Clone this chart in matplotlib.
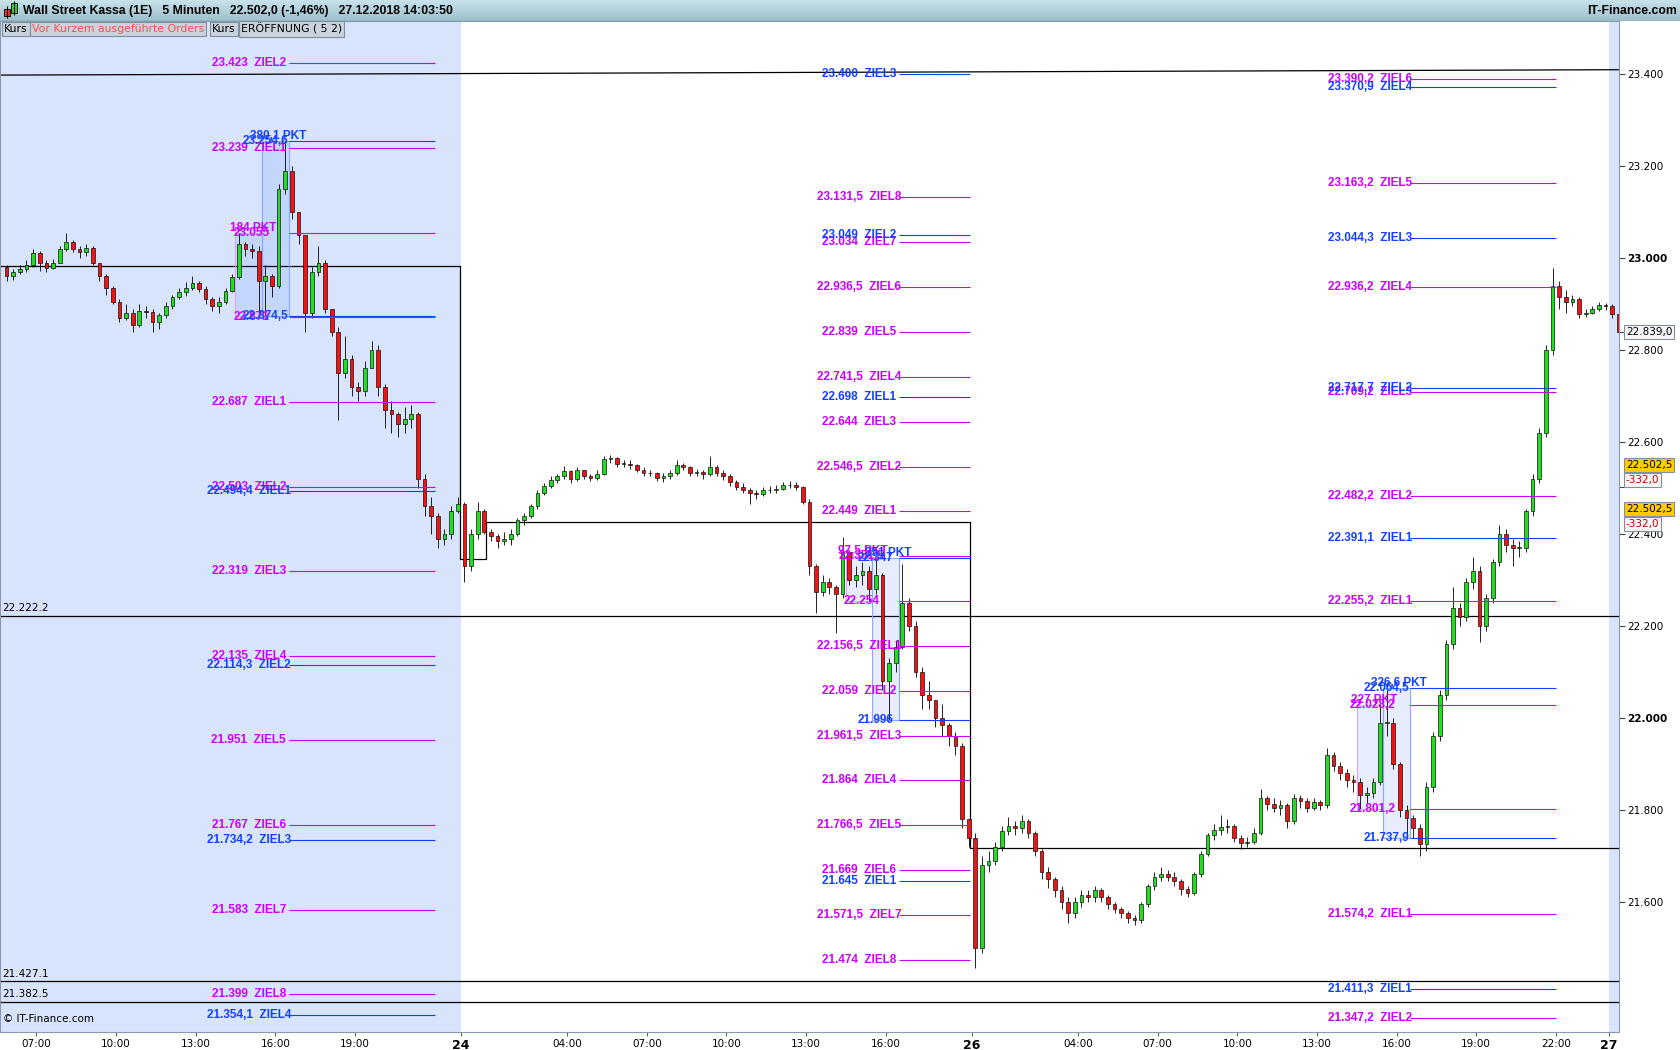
import numpy as np
import matplotlib.pyplot as plt
from matplotlib.patches import Rectangle
from matplotlib.colors import LinearSegmentedColormap

plt.rcParams['font.family'] = ['DejaVu Sans']

# ---------------- Daten (Punkte) ----------------
# 15-Minuten-Kerzen: Schluss / Hoch / Tief, je Handelstag
# 21.12. ab 05:45
c21 = [22960, 22970, 22975, 22985, 23010, 22990, 22978, 22990, 23020, 23035,
       23020, 23012, 23022, 22990, 22960, 22935, 22905, 22870, 22880, 22855,
       22885, 22882, 22860, 22875, 22895, 22915, 22925, 22935, 22945, 22932,
       22910, 22895, 22905, 22928, 22958, 23030, 23020, 23015, 22950, 22960,
       22940, 23150, 23190, 23100, 23050, 22880, 22970, 22990, 22890, 22840,
       22750, 22780, 22720, 22710, 22760, 22800, 22720, 22670, 22660, 22640,
       22650, 22660, 22520, 22460, 22440, 22390, 22400, 22450, 22465]
h21 = [22985, 22975, 22985, 22995, 23020, 23015, 22995, 22998, 23025, 23055,
       23040, 23025, 23030, 23025, 22990, 22965, 22940, 22910, 22900, 22890,
       22900, 22895, 22888, 22880, 22905, 22920, 22935, 22948, 22960, 22950,
       22940, 22915, 22915, 22935, 22965, 23055, 23035, 23030, 23025, 22985,
       22965, 23160, 23254.6, 23200, 23100, 23050, 22980, 23025, 22995, 22890,
       22850, 22830, 22790, 22730, 22775, 22820, 22810, 22725, 22690, 22665,
       22675, 22680, 22665, 22530, 22480, 22445, 22410, 22460, 22480]
l21 = [22950, 22952, 22965, 22970, 22980, 22972, 22970, 22975, 22988, 23015,
       23012, 23000, 23005, 22985, 22950, 22920, 22900, 22860, 22865, 22840,
       22850, 22870, 22840, 22845, 22870, 22890, 22910, 22918, 22930, 22925,
       22900, 22885, 22880, 22900, 22925, 22955, 23005, 23000, 22871, 22874.5,
       22915, 22935, 23140, 23085, 23030, 22840, 22870, 22960, 22880, 22830,
       22647, 22740, 22700, 22690, 22700, 22760, 22700, 22630, 22620, 22610,
       22620, 22630, 22500, 22440, 22400, 22370, 22375, 22390, 22445]

# 24.12. ab 00:00
c24 = [22330, 22400, 22450, 22405, 22395, 22385, 22390, 22400, 22430, 22440,
       22460, 22490, 22505, 22518, 22525, 22536, 22520, 22538, 22525, 22521,
       22530, 22562, 22566, 22553, 22553, 22551, 22540, 22533, 22532, 22522,
       22525, 22532, 22551, 22545, 22532, 22535, 22530, 22545, 22532, 22527,
       22514, 22503, 22496, 22490, 22487, 22495, 22496, 22498, 22506, 22506,
       22502, 22470, 22330, 22274, 22296, 22285, 22270, 22360, 22300, 22310,
       22320, 22280, 22310, 22080, 22120, 22155, 22250, 22200, 22100, 22050,
       22040, 22000, 21985, 21960, 21940, 21780, 21740]
h24 = [22470, 22410, 22470, 22455, 22410, 22400, 22405, 22410, 22435, 22445,
       22465, 22495, 22510, 22525, 22530, 22548, 22540, 22545, 22540, 22530,
       22538, 22570, 22572, 22568, 22560, 22560, 22553, 22545, 22540, 22535,
       22532, 22540, 22560, 22555, 22548, 22542, 22540, 22570, 22550, 22538,
       22530, 22518, 22510, 22500, 22495, 22502, 22505, 22506, 22512, 22515,
       22512, 22505, 22475, 22335, 22310, 22305, 22290, 22394, 22351.5, 22330,
       22340, 22330, 22347, 22315, 22130, 22170, 22334, 22260, 22210, 22110,
       22080, 22040, 22030, 21990, 21970, 21945, 21780]
l24 = [22296, 22320, 22390, 22400, 22385, 22370, 22375, 22375, 22395, 22420,
       22435, 22455, 22485, 22500, 22510, 22520, 22510, 22515, 22520, 22515,
       22518, 22528, 22555, 22545, 22545, 22542, 22535, 22525, 22525, 22515,
       22512, 22520, 22528, 22538, 22525, 22525, 22520, 22525, 22525, 22518,
       22505, 22495, 22488, 22465, 22475, 22482, 22488, 22490, 22495, 22500,
       22495, 22465, 22310, 22229, 22265, 22270, 22184, 22260, 22290, 22285,
       22290, 22254, 22270, 22060, 21996, 22100, 22150, 22190, 22090, 22020,
       22020, 21980, 21960, 21940, 21920, 21760, 21720]

# 26.12. ab 00:00
c26 = [21500, 21680, 21690, 21720, 21755, 21765, 21760, 21775, 21750, 21710,
       21665, 21650, 21625, 21600, 21575, 21600, 21615, 21610, 21625, 21610,
       21595, 21585, 21575, 21565, 21560, 21595, 21635, 21655, 21660, 21655,
       21645, 21628, 21620, 21660, 21705, 21745, 21757, 21762, 21765, 21740,
       21728, 21730, 21750, 21825, 21812, 21805, 21810, 21775, 21825, 21820,
       21805, 21817, 21810, 21920, 21895, 21880, 21865, 21860, 21832, 21836,
       21860, 21990, 21990, 21900, 21800, 21782, 21760, 21725, 21850, 21960,
       22050, 22160, 22240, 22220, 22295, 22320, 22200, 22260, 22340, 22400,
       22375, 22370, 22370, 22450, 22520, 22620, 22800, 22940, 22915, 22905,
       22910, 22878, 22880, 22888, 22897, 22895]
h26 = [21750, 21700, 21710, 21730, 21765, 21785, 21775, 21790, 21780, 21755,
       21715, 21675, 21655, 21635, 21610, 21610, 21625, 21625, 21635, 21630,
       21615, 21600, 21590, 21580, 21572, 21600, 21640, 21665, 21675, 21670,
       21665, 21650, 21635, 21665, 21710, 21750, 21770, 21790, 21780, 21770,
       21745, 21742, 21760, 21845, 21830, 21825, 21822, 21815, 21835, 21832,
       21825, 21825, 21822, 21935, 21925, 21905, 21890, 21875, 21870, 21850,
       21870, 22028.2, 22064.5, 22000, 21905, 21810, 21790, 21770, 21860, 21970,
       22060, 22170, 22285, 22250, 22305, 22350, 22330, 22270, 22345, 22420,
       22410, 22390, 22385, 22455, 22530, 22630, 22810, 22978, 22950, 22930,
       22920, 22915, 22890, 22895, 22905, 22902]
l26 = [21457, 21490, 21665, 21680, 21710, 21745, 21745, 21750, 21740, 21700,
       21650, 21630, 21610, 21585, 21555, 21565, 21590, 21600, 21600, 21600,
       21585, 21575, 21565, 21555, 21550, 21555, 21590, 21625, 21645, 21645,
       21635, 21615, 21610, 21615, 21655, 21700, 21735, 21745, 21750, 21730,
       21715, 21720, 21725, 21745, 21800, 21795, 21790, 21760, 21770, 21805,
       21795, 21800, 21800, 21805, 21885, 21865, 21850, 21840, 21801.2, 21815,
       21825, 21855, 21960, 21890, 21785, 21737.9, 21740, 21700, 21710, 21840,
       21950, 22040, 22150, 22200, 22210, 22280, 22165, 22190, 22250, 22330,
       22360, 22330, 22350, 22360, 22440, 22510, 22610, 22790, 22890, 22880,
       22895, 22870, 22872, 22878, 22885, 22887]

# 27.12. ab 00:00
c27 = [22878, 22839]
h27 = [22900, 22880]
l27 = [22870, 22830]

erster_open = 22980

# Kursziele je Tag (magenta / blau) mit Nummer
z21_mag = [23423, 23239, 22687, 22503, 22319, 22135, 21951, 21767, 21583, 21399]
z21_mag_n = [2, 1, 1, 2, 3, 4, 5, 6, 7, 8]
z21_blau = [22494.4, 22114.3, 21734.2, 21354.1]
z21_blau_n = [1, 2, 3, 4]

z24_mag = [23131.5, 23034, 22936.5, 22839, 22741.5, 22644, 22546.5, 22449,
           22156.5, 22059, 21961.5, 21864, 21766.5, 21669, 21571.5, 21474]
z24_mag_n = [8, 7, 6, 5, 4, 3, 2, 1, 1, 2, 3, 4, 5, 6, 7, 8]
z24_blau = [23400, 23049, 22698, 21645]
z24_blau_n = [3, 2, 1, 1]

z26_mag = [23390.2, 23163.2, 22936.2, 22709.2, 22482.2, 22255.2, 21574.2, 21347.2]
z26_mag_n = [6, 5, 4, 3, 2, 1, 1, 2]
z26_blau = [23370.9, 23044.3, 22717.7, 22391.1, 21411.3]
z26_blau_n = [4, 3, 2, 1, 1]

# Eroeffnungs-Boxen (oben, unten)
box_mag = [(23055, 22871), (22351.5, 22254), (22028.2, 21801.2)]
box_blau = [(23254.6, 22874.5), (22347, 21996), (22064.5, 21737.9)]

# ERÖFFNUNG-Linie (Stufen)
eroeff_x = [5.627, 22.95, 23.95, 42.16, 66.63]
eroeff_y = [22983, 22345, 22425, 21717, 21717]

# horizontale Linien links beschriftet
hlinie = [22222.2, 21427.1, 21382.5]
hlinie_txt = ['22.222.2', '21.427.1', '21.382.5']

# Trendlinie oben
trend_x = [5.627, 66.63]
trend_y = [23397.6, 23409.3]

# Achsen
y_ticks = [21600, 21800, 22000, 22200, 22400, 22600, 22800, 23000, 23200, 23400]
x_ticks = [7, 10, 13, 16, 19, 23, 27, 30, 33, 36, 39, 42.25,
           46.25, 49.25, 52.25, 55.25, 58.25, 61.25, 64.25, 66.25]
x_labels = ['07:00', '10:00', '13:00', '16:00', '19:00', '24', '04:00', '07:00',
            '10:00', '13:00', '16:00', '26', '04:00', '07:00', '10:00', '13:00',
            '16:00', '19:00', '22:00', '27']

MAG = '#cc00ff'
BLAU = '#1240ff'
GRUEN = '#22dd22'
ROT = '#f01414'
LFONT = 'Liberation Sans'


def de(v):
    s = f'{v:,.1f}'.replace(',', 'X').replace('.', ',').replace('X', '.')
    return s[:-2] if s.endswith(',0') else s


fig = plt.figure(figsize=(16.8, 10.5), dpi=100)
ax = fig.add_axes([0.0, 18 / 1050, 1619 / 1680, (1032 - 20.5) / 1050])
ax.set_xlim(5.627, 66.63)
ax.set_ylim(21317.2, 23516.3)

# Hintergrund der Tage
ax.axvspan(5.627, 23.0, color='#d8e4fc', lw=0, zorder=0)
ax.axvspan(66.25, 66.63, color='#d8e4fc', lw=0, zorder=0)

# Kerzen
tage = [(0.0, 5.75, c21, h21, l21), (23.0, 0.0, c24, h24, l24),
        (42.25, 0.0, c26, h26, l26), (66.25, 0.0, c27, h27, l27)]
xs, os_, cs, hs, ls = [], [], [], [], []
prev = erster_open
for off, t0, c, h, l in tage:
    for i in range(len(c)):
        xs.append(off + t0 + 0.25 * i + 0.125)
        os_.append(prev)
        cs.append(c[i]); hs.append(h[i]); ls.append(l[i])
        prev = c[i]
xs, os_, cs, hs, ls = map(np.array, (xs, os_, cs, hs, ls))
ax.vlines(xs, ls, hs, color='black', lw=0.6, zorder=3)
ax.bar(xs, np.maximum(np.abs(cs - os_), 1.5), bottom=np.minimum(os_, cs), width=0.14,
       color=np.where(cs >= os_, GRUEN, ROT), edgecolor='black', linewidth=0.45, zorder=4)

# Linien
ax.step(eroeff_x, eroeff_y, where='post', color='black', lw=0.9, zorder=2)
ax.plot(trend_x, trend_y, color='black', lw=0.9, zorder=2)
for y, t in zip(hlinie, hlinie_txt):
    ax.axhline(y, color='black', lw=0.9, zorder=2)
    ax.text(5.70, y + 6, t, fontsize=7.5, va='bottom', ha='left', zorder=6)

# Kursziele und Boxen
tag_off = [0.0, 23.0, 42.25]
tag_ende = [22.0, 19.16, 22.0]
ziele = [(z21_mag, z21_mag_n, z21_blau, z21_blau_n),
         (z24_mag, z24_mag_n, z24_blau, z24_blau_n),
         (z26_mag, z26_mag_n, z26_blau, z26_blau_n)]
for k in range(3):
    off = tag_off[k]
    x0, x1 = off + 16.5, off + tag_ende[k]
    zm, zmn, zb, zbn = ziele[k]
    for werte, nummern, farbe in ((zm, zmn, MAG), (zb, zbn, BLAU)):
        for v, n in zip(werte, nummern):
            ax.hlines(v, x0, x1, color=farbe, lw=0.8, zorder=5)
            ax.text(off + 15.0, v, f'{de(v)}  ZIEL{n}', color=farbe, family=LFONT,
                    fontweight='bold', fontsize=8.5, ha='center', va='center', zorder=7)
    # Boxen
    mo, mu = box_mag[k]
    bo, bu = box_blau[k]
    ax.add_patch(Rectangle((off + 14.5, mu), 1.0, mo - mu, facecolor=(0.25, 0.45, 1.0, 0.12),
                           edgecolor='#e2a0ff', lw=0.8, zorder=2))
    ax.add_patch(Rectangle((off + 15.5, bu), 1.0, bo - bu, facecolor=(0.25, 0.45, 1.0, 0.12),
                           edgecolor='#8aa8ff', lw=0.8, zorder=2))
    for v in (mo, mu):
        ax.hlines(v, x0, x1, color=MAG, lw=0.8, zorder=5)
        ax.text(off + 15.1, v, de(v), color=MAG, family=LFONT, fontweight='bold',
                fontsize=8.5, ha='center', va='center', zorder=7)
    for v in (bo, bu):
        ax.hlines(v, x0, x1, color=BLAU, lw=0.8, zorder=5)
        ax.text(off + 15.62, v, de(v), color=BLAU, family=LFONT, fontweight='bold',
                fontsize=8.5, ha='center', va='center', zorder=7)
    ax.text(off + 15.15, mo + 11, f'{de(mo - mu)} PKT', color=MAG, family=LFONT,
            fontweight='bold', fontsize=8.5, ha='center', va='center', zorder=7)
    ax.text(off + 16.1, bo + 11, f'{de(bo - bu)} PKT', color=BLAU, family=LFONT,
            fontweight='bold', fontsize=8.5, ha='center', va='center', zorder=7)

# Achsen-Stil
for s in ax.spines.values():
    s.set_color('#8a9aaa')
ax.yaxis.tick_right()
ax.set_yticks(y_ticks, [de(v) for v in y_ticks])
ax.set_yticks([22839, 22502.5], minor=True)
ax.tick_params(axis='y', which='both', direction='out', length=4, width=0.8,
               color='#444444', pad=2, labelsize=7.5)
for t, v in zip(ax.get_yticklabels(), y_ticks):
    if v % 1000 == 0:
        t.set_fontweight('bold')
ax.set_xticks(x_ticks, x_labels)
ax.tick_params(axis='x', direction='out', length=3, width=0.8, color='#666666',
               pad=2, labelsize=7.5)
for t in ax.get_xticklabels():
    if ':' not in t.get_text():
        t.set_fontweight('bold')
        t.set_fontsize(9)

ax.text(0.002, 0.008, '© IT-Finance.com', transform=ax.transAxes, fontsize=7.5,
        ha='left', va='bottom', zorder=8)

# Kursboxen rechts
def kasten(y_px, txt, fc, tc):
    fig.text(1626 / 1680, 1 - y_px / 1050, txt, fontsize=7.5, color=tc, ha='left', va='center',
             bbox=dict(boxstyle='square,pad=0.15', fc=fc, ec='#8090a0', lw=0.8))

kasten(332, '22.839,0', '#f6f6f6', 'black')
kasten(465, '22.502,5', '#ffcc00', 'black')
kasten(480, '-332,0', '#f6f6f6', '#cc0000')
kasten(509, '22.502,5', '#ffcc00', 'black')
kasten(524, '-332,0', '#f6f6f6', '#cc0000')

# Kopfzeile
hx = fig.add_axes([0, 1 - 21 / 1050, 1, 21 / 1050])
cm = LinearSegmentedColormap.from_list('kopf', ['#c8e2ea', '#9cc0cc'])
hx.imshow(np.linspace(0, 1, 50).reshape(-1, 1), aspect='auto', cmap=cm, extent=[0, 1680, 21, 0])
hx.set_xlim(0, 1680)
hx.set_ylim(21, 0)
hx.axis('off')
hx.axhline(20.5, color='#7896a4', lw=1)
hx.vlines([7, 14], [6, 1], [18, 15], color='black', lw=0.8)
hx.add_patch(Rectangle((4, 9), 6, 7, fc='#ee3333', ec='black', lw=0.6))
hx.add_patch(Rectangle((11, 3), 6, 10, fc='#33cc33', ec='black', lw=0.6))
hx.text(23, 11, 'Wall Street Kassa (1E)   5 Minuten   22.502,0 (-1,46%)   27.12.2018 14:03:50',
        family=LFONT, fontweight='bold', fontsize=8.8, va='center', ha='left')
hx.text(1677, 11, 'IT-Finance.com', family=LFONT, fontweight='bold', fontsize=8.8,
        va='center', ha='right')

# Reiter
reiter = [(4, 'Kurs', 'black'), (32, 'Vor Kurzem ausgeführte Orders', '#ff5050'),
          (212, 'Kurs', 'black'), (241, 'ERÖFFNUNG ( 5 2)', 'black')]
for x, t, col in reiter:
    fig.text(x / 1680, 1 - 29 / 1050, t, fontsize=7.8, color=col, ha='left', va='center',
             bbox=dict(boxstyle='square,pad=0.18', fc='#c9d3dd', ec='#7f8fa0', lw=0.8))

fig.savefig('out.png', dpi=100)
